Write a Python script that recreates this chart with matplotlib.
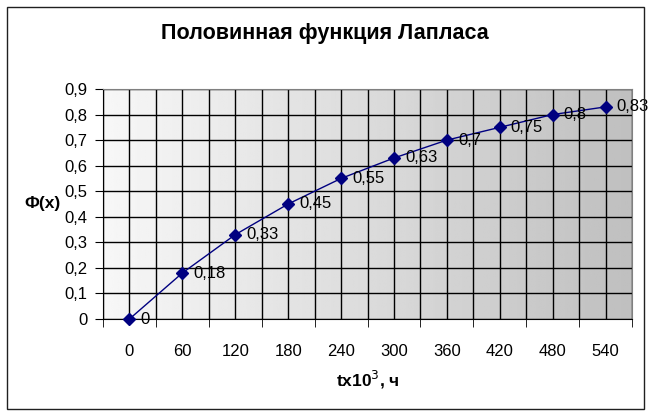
import numpy as np
import matplotlib
matplotlib.use('Agg')
import matplotlib.pyplot as plt
from matplotlib.patches import Rectangle

plt.rcParams['font.family'] = ['Liberation Sans', 'DejaVu Sans']

# Data
t_labels = ['0', '60', '120', '180', '240', '300', '360', '420', '480', '540']
phi_values = [0, 0.18, 0.33, 0.45, 0.55, 0.63, 0.7, 0.75, 0.8, 0.83]
y_ticks = [0, 0.1, 0.2, 0.3, 0.4, 0.5, 0.6, 0.7, 0.8, 0.9]

fig = plt.figure(figsize=(6.52, 4.15), dpi=100)
ax = fig.add_axes([103 / 652, 1 - 319 / 415, (632 - 103) / 652, (319 - 89) / 415])

x = np.arange(len(t_labels))
ax.set_xlim(-0.5, len(t_labels) - 0.5)
ax.set_ylim(0, 0.9)

# horizontal gradient background, white to grey
grad = np.linspace(0.97, 0.75, 256).reshape(1, -1)
ax.imshow(grad, cmap='gray', vmin=0, vmax=1, aspect='auto',
          extent=[-0.5, len(t_labels) - 0.5, 0, 0.9], zorder=0)

# grid at category centres and boundaries
ax.set_xticks(x)
ax.set_xticks(np.arange(-0.5, len(t_labels)), minor=True)
ax.set_xticklabels(t_labels)
ax.set_yticks(y_ticks)
ax.set_yticklabels([('%g' % v).replace('.', ',') for v in y_ticks])
ax.grid(True, which='both', axis='x', color='black', linewidth=1)
ax.grid(True, which='major', axis='y', color='black', linewidth=1)

ax.tick_params(axis='x', which='major', length=0, pad=18, labelsize=12)
ax.tick_params(axis='x', which='minor', length=6, direction='out', color='black')
ax.tick_params(axis='y', length=6, direction='out', pad=5, labelsize=12)

for side in ['top', 'right']:
    ax.spines[side].set_color('#808080')
for side in ['left', 'bottom']:
    ax.spines[side].set_color('black')

ax.plot(x, phi_values, color='#000080', linewidth=1, marker='D', markersize=6,
        zorder=3, clip_on=False)
for xi, v in zip(x, phi_values):
    ax.annotate(('%g' % v).replace('.', ','), (xi, v), xytext=(8, 0),
                textcoords='offset points', ha='left', va='center',
                fontsize=12, zorder=4, annotation_clip=False)

fig.text(325 / 652, 1 - 33 / 415, 'Половинная функция Лапласа', ha='center',
         va='center', fontsize=15.5, fontweight='bold')
fig.text(43 / 652, 1 - 203 / 415, 'Ф(x)', ha='center', va='center',
         fontsize=12.5, fontweight='bold')
fig.text(368 / 652, 1 - 380 / 415, 'tx10$^3$, ч', ha='center', va='center',
         fontsize=12.5, fontweight='bold')

fig.patches.append(Rectangle((7 / 652, 6 / 415), 637 / 652, 402 / 415,
                             transform=fig.transFigure, fill=False,
                             edgecolor='#202020', linewidth=1))

fig.savefig('out.png', dpi=100)
